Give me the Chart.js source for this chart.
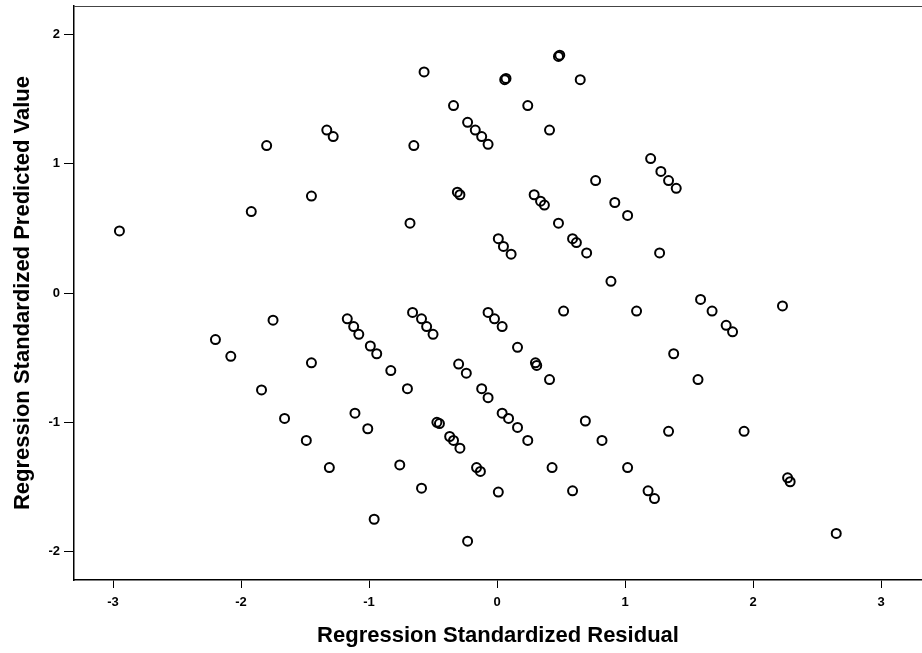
<!DOCTYPE html>
<html>
<head>
<meta charset="utf-8">
<script src="https://cdn.jsdelivr.net/npm/chart.js@4/dist/chart.umd.min.js"></script>
<style>
  body { margin: 0; background: #fff; }
  canvas { display: block; }
</style>
</head>
<body>
<canvas id="scatter" width="922" height="653"></canvas>
<script>
const residualX = [
  -2.95, -1.92, -1.80, -1.45, -1.33, -1.28, -0.57, -0.65, -0.68, -0.34, -0.31, -0.29,
  0.48, 0.49, 0.06, 0.07, 0.65, 0.24, 0.41, -0.23, -0.17, -0.12, -0.07,
  1.20, 1.28, 1.34, 1.40, 0.77, 0.92, 1.02, 0.29, 0.34, 0.37, 0.48,
  0.59, 0.62, 0.70, 0.01, 0.05, 0.11, 1.27, 0.89,
  1.59, 1.68, 1.79, 1.84, 2.23, 0.52, 1.09, -0.07, -0.02, 0.04,
  0.16, 0.30, 0.31, -0.30, -0.24, 0.41, 1.38, 1.57, -0.12, -0.07,
  0.04, 0.09, 0.16, 0.24, 0.69, 0.82, 1.34, 1.93, -0.29,
  -0.16, -0.13, 0.43, 1.02, 2.27, 2.29, 0.01, 0.59, 1.18, 1.23, 2.65, -0.23,
  -2.20, -2.08, -1.75, -1.84, -1.45, -1.66, -1.49, -1.31,
  -1.17, -1.12, -1.08, -0.99, -0.94, -0.83, -0.70,
  -0.66, -0.59, -0.55, -0.50, -1.11, -1.01, -0.47, -0.45, -0.37, -0.34,
  -0.76, -0.59, -0.96
];
const predictedY = [
  0.48, 0.63, 1.14, 0.75, 1.26, 1.21, 1.71, 1.14, 0.54, 1.45, 0.78, 0.76,
  1.83, 1.84, 1.65, 1.66, 1.65, 1.45, 1.26, 1.32, 1.26, 1.21, 1.15,
  1.04, 0.94, 0.87, 0.81, 0.87, 0.70, 0.60, 0.76, 0.71, 0.68, 0.54,
  0.42, 0.39, 0.31, 0.42, 0.36, 0.30, 0.31, 0.09,
  -0.05, -0.14, -0.25, -0.30, -0.10, -0.14, -0.14, -0.15, -0.20, -0.26,
  -0.42, -0.54, -0.56, -0.55, -0.62, -0.67, -0.47, -0.67, -0.74, -0.81,
  -0.93, -0.97, -1.04, -1.14, -0.99, -1.14, -1.07, -1.07, -1.20,
  -1.35, -1.38, -1.35, -1.35, -1.43, -1.46, -1.54, -1.53, -1.53, -1.59, -1.86, -1.92,
  -0.36, -0.49, -0.21, -0.75, -0.54, -0.97, -1.14, -1.35,
  -0.20, -0.26, -0.32, -0.41, -0.47, -0.60, -0.74,
  -0.15, -0.20, -0.26, -0.32, -0.93, -1.05, -1.00, -1.01, -1.11, -1.14,
  -1.33, -1.51, -1.75
];
const xTickValues = [-3, -2, -1, 0, 1, 2, 3];
const yTickValues = [-2, -1, 0, 1, 2];

const points = residualX.map((x, i) => ({ x: x, y: predictedY[i] }));

// the frame line along the top of the plot
const topFrame = {
  id: 'topFrame',
  afterDraw(chart) {
    const { ctx, chartArea } = chart;
    ctx.save();
    ctx.strokeStyle = '#444';
    ctx.lineWidth = 1;
    ctx.beginPath();
    ctx.moveTo(chartArea.left, chartArea.top + 0.5);
    ctx.lineTo(chartArea.right, chartArea.top + 0.5);
    ctx.stroke();
    ctx.restore();
  }
};

const tickFont = { family: '"Liberation Sans", Arial, sans-serif', size: 13, weight: 'bold' };
const titleFont = { family: '"Liberation Sans", Arial, sans-serif', size: 22, weight: 'bold' };

new Chart(document.getElementById('scatter'), {
  type: 'scatter',
  data: {
    datasets: [{
      data: points,
      pointStyle: 'circle',
      pointRadius: 4.5,
      pointHoverRadius: 4.5,
      pointBorderWidth: 2,
      pointBorderColor: '#000',
      pointBackgroundColor: 'rgba(255,255,255,0)'
    }]
  },
  options: {
    responsive: false,
    animation: false,
    events: [],
    layout: { autoPadding: false, padding: { top: 6, right: 0, left: 0, bottom: 0 } },
    plugins: { legend: { display: false }, tooltip: { enabled: false } },
    scales: {
      x: {
        type: 'linear',
        min: -3.305,
        max: 3.32,
        afterBuildTicks: (scale) => { scale.ticks = xTickValues.map(v => ({ value: v })); },
        afterFit: (scale) => {
          scale.height = 73;
          scale.paddingLeft = 0;
          scale.paddingRight = 0;
        },
        grid: { drawOnChartArea: false, drawTicks: true, tickLength: 8, color: '#000', lineWidth: 1 },
        border: { display: true, color: '#000', width: 1.5 },
        ticks: { color: '#000', font: tickFont, padding: 7, maxRotation: 0 },
        title: { display: true, text: 'Regression Standardized Residual', color: '#000', font: titleFont, padding: { top: 0, bottom: 4 } }
      },
      y: {
        type: 'linear',
        min: -2.22,
        max: 2.22,
        afterBuildTicks: (scale) => { scale.ticks = yTickValues.map(v => ({ value: v })); },
        afterFit: (scale) => {
          scale.width = 74;
          scale.paddingTop = 0;
          scale.paddingBottom = 0;
        },
        grid: { drawOnChartArea: false, drawTicks: true, tickLength: 10, color: '#000', lineWidth: 1 },
        border: { display: true, color: '#000', width: 1.5 },
        ticks: { color: '#000', font: tickFont, padding: 4 },
        title: { display: true, text: 'Regression Standardized Predicted Value', color: '#000', font: titleFont, padding: { top: 10, bottom: 0 } }
      }
    }
  },
  plugins: [topFrame]
});
</script>
</body>
</html>
